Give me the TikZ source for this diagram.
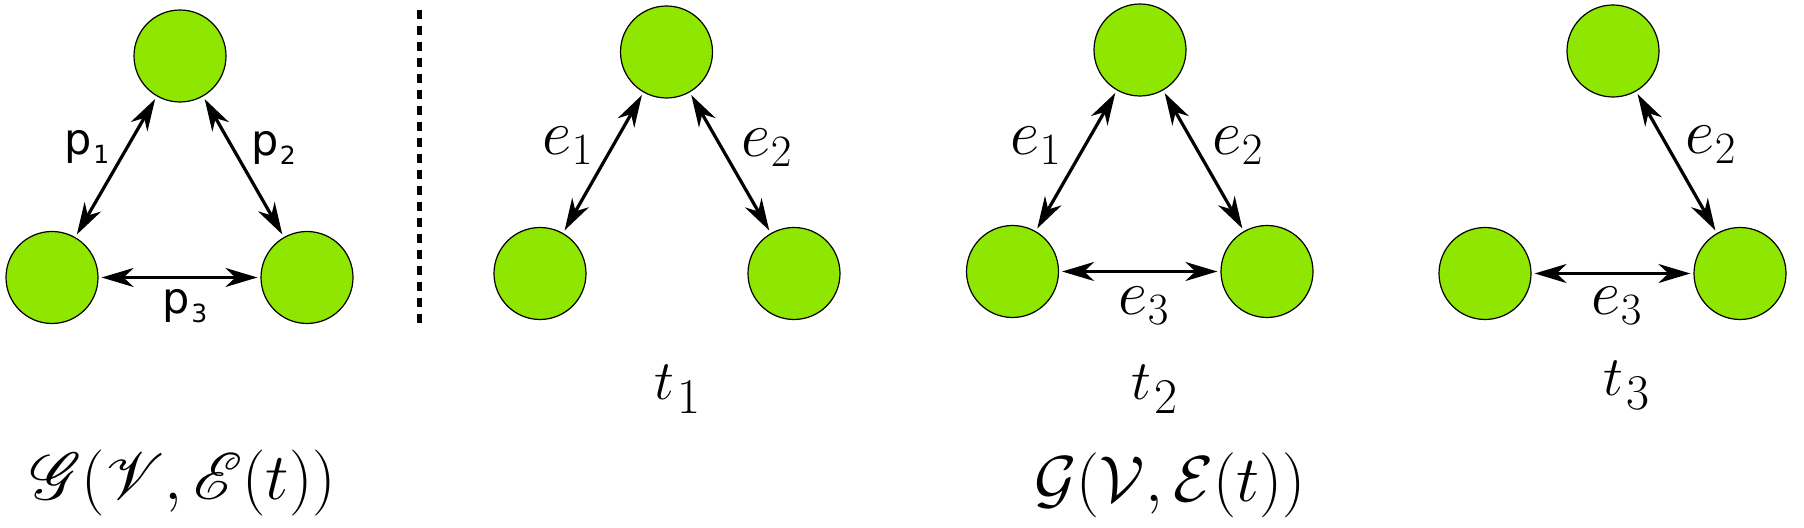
\RequirePackage{fix-cm}
\documentclass[tikz,border=0pt]{standalone}
\usepackage{fontspec}
\usepackage{mathrsfs}
\DeclareFontFamily{U}{rsfs}{\skewchar\font127 }
\DeclareFontShape{U}{rsfs}{m}{n}{<-6> rsfs5 <6-8> rsfs7 <8-> rsfs10}{}
\usetikzlibrary{arrows.meta}
\newfontfamily\pfont{DejaVu Sans}
\definecolor{nodegreen}{RGB}{143,230,0}
\newcommand{\psub}[2]{#1\kern0.8pt\raisebox{-4.5pt}{\fontsize{12.5}{13}\selectfont #2}}
\newcommand{\tsub}[1]{$t_{\kern1.5pt\mbox{\fontsize{25}{25}\selectfont #1}}$}
\begin{document}
\begin{tikzpicture}[x=0.5pt,y=-0.5pt,
  vtx/.style={circle, draw=black, line width=0.6pt, fill=nodegreen, minimum size=46pt, inner sep=0pt},
  link/.style={line width=1.6pt, {Stealth[length=16pt,width=9.5pt,inset=5pt]}-{Stealth[length=16pt,width=9.5pt,inset=5pt]}, shorten <=1.5pt, shorten >=1.5pt},
  plab/.style={inner sep=0pt, anchor=base, font=\pfont\fontsize{21.5}{22}\selectfont},
  elab/.style={inner sep=0pt, anchor=base, font=\fontsize{32}{38}\selectfont},
  tlab/.style={inner sep=0pt, anchor=base, font=\fontsize{28}{32}\selectfont},
  glab/.style={inner sep=0pt, anchor=base, font=\fontsize{33}{40}\selectfont},
  sepline/.style={line width=2.2pt, dash pattern=on 4.5pt off 3.5pt}]
\useasboundingbox (0,0) rectangle (1804,528);
% graph 1
\node[vtx] (g1t) at (180,56) {};
\node[vtx] (g1l) at (52,277.5) {};
\node[vtx] (g1r) at (307,277.5) {};
% graph 2
\node[vtx] (g2t) at (666.5,52) {};
\node[vtx] (g2l) at (540,273.5) {};
\node[vtx] (g2r) at (794,273.5) {};
% graph 3
\node[vtx] (g3t) at (1140,50) {};
\node[vtx] (g3l) at (1012.5,271.5) {};
\node[vtx] (g3r) at (1267,271.5) {};
% graph 4
\node[vtx] (g4t) at (1613,51) {};
\node[vtx] (g4l) at (1485,273.5) {};
\node[vtx] (g4r) at (1740,273.5) {};
% edges
\draw[link] (g1t) -- (g1l);
\draw[link] (g1t) -- (g1r);
\draw[link] (g1l) -- (g1r);
\draw[link] (g2t) -- (g2l);
\draw[link] (g2t) -- (g2r);
\draw[link] (g3t) -- (g3l);
\draw[link] (g3t) -- (g3r);
\draw[link] (g3l) -- (g3r);
\draw[link] (g4t) -- (g4r);
\draw[link] (g4l) -- (g4r);
% separator
\coordinate (s1) at (419.5,10);
\coordinate (s2) at (419.5,326);
\draw[sepline] (s1) -- (s2);
% labels
\node[plab] (p1) at (87,155) {\psub{p}{1}};
\node[plab] (p2) at (273.5,156) {\psub{p}{2}};
\node[plab] (p3) at (185,314) {\psub{p}{3}};
\node[elab] (e1a) at (568,155) {$e_1$};
\node[elab] (e2a) at (767,157) {$e_2$};
\node[elab] (e1b) at (1036,155) {$e_1$};
\node[elab] (e2b) at (1238,155) {$e_2$};
\node[elab] (e3b) at (1144,315) {$e_3$};
\node[elab] (e2c) at (1711,154) {$e_2$};
\node[elab] (e3c) at (1617,315) {$e_3$};
\node[tlab] (t1) at (678,400) {\tsub{1}};
\node[tlab] (t2) at (1155,400) {\tsub{2}};
\node[tlab] (t3) at (1627,396) {\tsub{3}};
\node[glab] (gl) at (183,500) {$\mathscr{G}(\mathscr{V},\mathscr{E}(t))$};
\node[glab, font=\fontsize{32.5}{40}\selectfont] (gr) at (1170,502) {$\mathcal{G}(\mathcal{V},\mathcal{E}(t))$};
\end{tikzpicture}
\end{document}
